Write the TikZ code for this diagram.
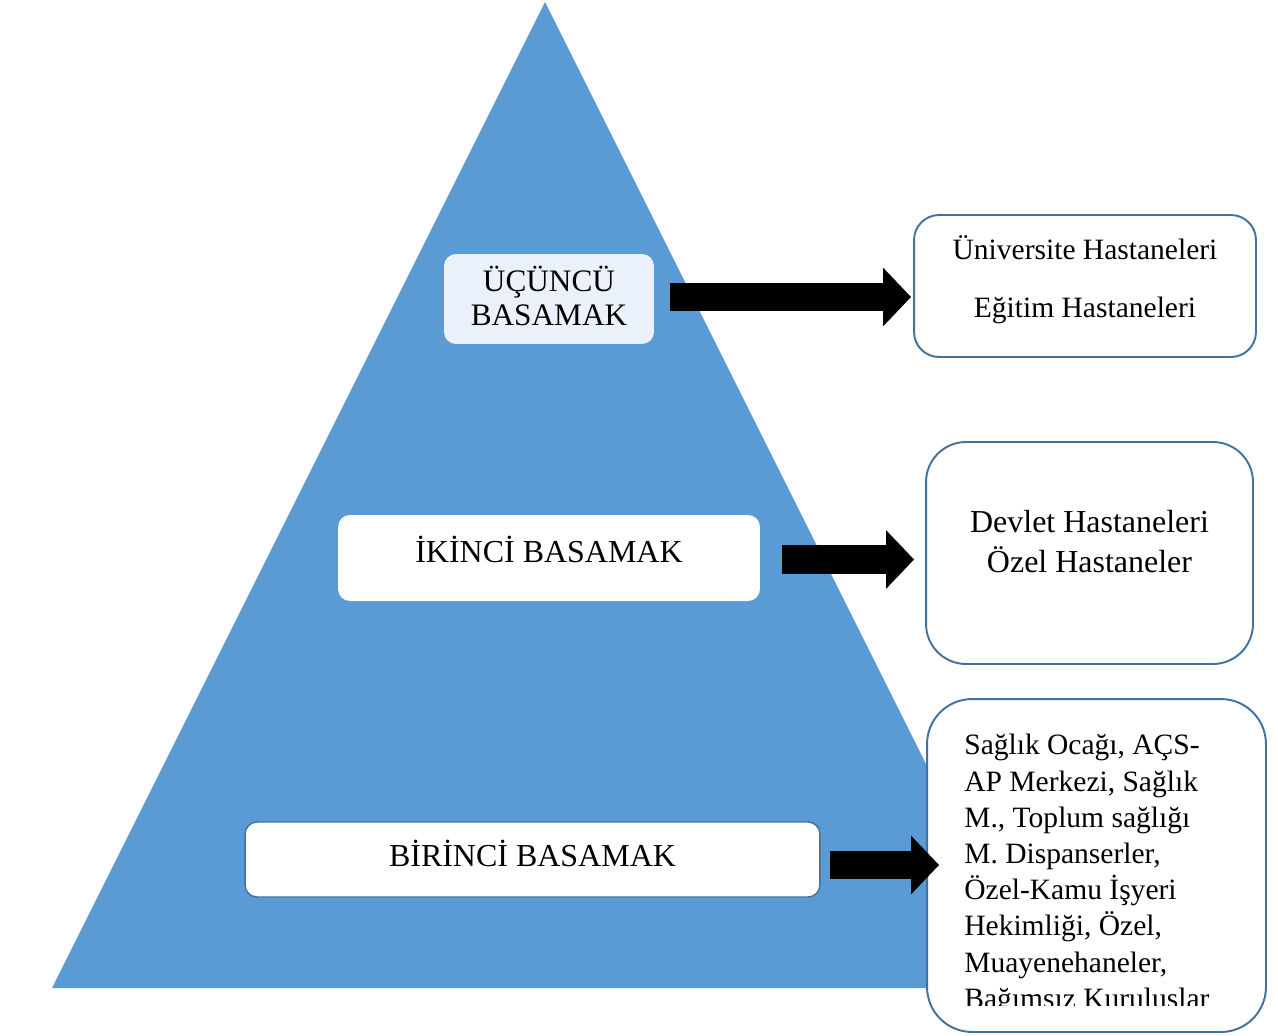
\documentclass[tikz,border=0pt]{standalone}
\usepackage{fontspec}
\setmainfont{Liberation Serif}
\definecolor{PyrBlue}  {RGB}{91,155,213}
\definecolor{EdgeBlue} {RGB}{65,113,156}
\definecolor{PaleBlue} {RGB}{235,241,250}
\usetikzlibrary{arrows.meta,positioning,calc}

\begin{document}
\begin{tikzpicture}[x=0.02cm,y=-0.02cm,
    every node/.style={font=\fontsize{18.2}{19.3}\selectfont},
    lvlbox/.style={rounded corners=0.24cm,inner sep=0pt,align=center},
    unitbox/.style={draw=EdgeBlue,line width=1.1pt,fill=white,inner sep=0pt,
                    align=center,font=\fontsize{16.8}{19}\selectfont},
    bigarrow/.style={line width=0.57cm,-{Triangle[length=0.56cm,width=1.14cm]}}]
  \useasboundingbox (0,0) rectangle (1278,1035);
  % pyramid
  \fill[PyrBlue] (545,2) -- (1038,988) -- (52,988) -- cycle;
  % levels
  \node[lvlbox,fill=PaleBlue,minimum width=4.2cm,minimum height=1.8cm,
        label={[font=\fontsize{17.8}{19.3}\selectfont,align=center,yshift=0.06cm]center:ÜÇÜNCÜ\\BASAMAK}]
    (ucuncu) at (549,299) {};
  \node[lvlbox,fill=white,minimum width=8.44cm,minimum height=1.72cm,
        label={[yshift=0.18cm]center:İKİNCİ BASAMAK}]
    (ikinci) at (549,558) {};
  \node[lvlbox,fill=white,draw=EdgeBlue,line width=0.8pt,
        minimum width=11.5cm,minimum height=1.5cm,
        label={[yshift=0.12cm]center:BİRİNCİ BASAMAK}]
    (birinci) at (532.5,859.5) {};
  % institutions
  \node[unitbox,rounded corners=0.5cm,minimum width=6.84cm,minimum height=2.84cm,
        label={[font=\fontsize{16.8}{19}\selectfont,align=center,yshift=0.12cm]center:Üniversite Hastaneleri\\[14pt]Eğitim Hastaneleri}]
    (uni) at (1085,286) {};
  \node[unitbox,rounded corners=0.8cm,minimum width=6.54cm,minimum height=4.44cm,
        label={[font=\fontsize{18.2}{23.2}\selectfont,align=center,yshift=0.23cm]center:Devlet Hastaneleri\\Özel Hastaneler}]
    (devlet) at (1089.5,553) {};
  \node[unitbox,rounded corners=0.9cm,minimum width=6.78cm,minimum height=6.66cm]
    (saglik) at (1096.5,865.5) {};
  \begin{scope}
    \clip (930,702) rectangle (1262,1005);
    \node[anchor=north west,inner sep=0pt,align=left,
          font=\fontsize{16.8}{20.6}\selectfont] (sagliktext) at (964,734)
      {Sağlık Ocağı, AÇS-\\AP Merkezi, Sağlık\\M., Toplum sağlığı\\M. Dispanserler,\\
       Özel-Kamu İşyeri\\Hekimliği, Özel,\\Muayenehaneler,\\Bağımsız Kuruluşlar};
  \end{scope}
  % arrows
  \foreach \a/\b/\s/\e/\dy in {ucuncu/uni/0.32/-0.04/0.04,ikinci/devlet/0.44/-0.22/-0.03,
                               birinci/saglik/0.18/0.26/-0.11}
    \draw[bigarrow] ([xshift=\s cm,yshift=\dy cm]\a.east)
      -- ([xshift=\e cm,yshift=\dy cm]\b.west |- \a.east);
\end{tikzpicture}
\end{document}
